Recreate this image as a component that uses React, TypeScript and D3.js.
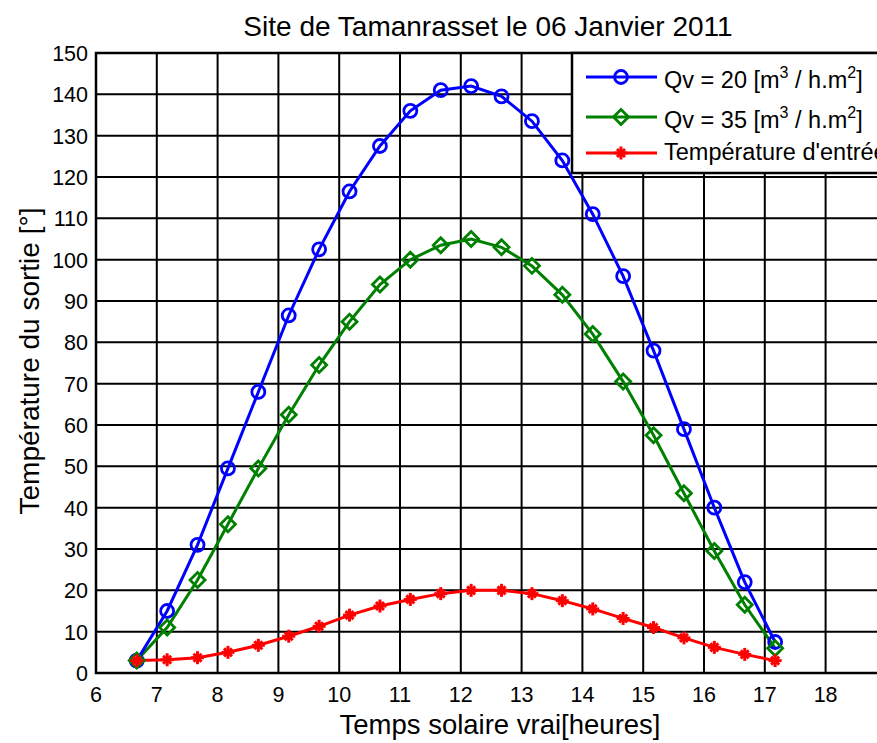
import React from "react";
import * as d3 from "d3";

const hours = [6.67, 7.17, 7.67, 8.17, 8.67, 9.17, 9.67, 10.17, 10.67, 11.17, 11.67, 12.17, 12.67, 13.17, 13.67, 14.17, 14.67, 15.17, 15.67, 16.17, 16.67, 17.17];
const qv20 = [3, 15, 31, 49.5, 68, 86.5, 102.5, 116.5, 127.5, 136, 141, 142, 139.5, 133.5, 124, 111, 96, 78, 59, 40, 22, 7.5];
const qv35 = [3, 11, 22.5, 36, 49.5, 62.5, 74.5, 85, 94, 100, 103.5, 105, 103, 98.5, 91.5, 82, 70.5, 57.5, 43.5, 29.5, 16.5, 6];
const tin = [3, 3.2, 3.7, 5, 6.7, 8.9, 11.3, 14, 16.2, 17.8, 19.2, 20, 20, 19.2, 17.5, 15.5, 13.2, 11, 8.5, 6.2, 4.5, 3];
const xTicks = [6, 7, 8, 9, 10, 11, 12, 13, 14, 15, 16, 17, 18];
const yTicks = [0, 10, 20, 30, 40, 50, 60, 70, 80, 90, 100, 110, 120, 130, 140, 150];

const W = 877, H = 743;
const L = 96, T = 53, B = 673;
const x = d3.scaleLinear().domain([6, 19]).range([L, L + 13 * 60.8]);
const y = d3.scaleLinear().domain([0, 150]).range([B, T]);
const FONT = "'Liberation Sans', Arial, sans-serif";

function Circle({ cx, cy }: { cx: number; cy: number }) {
  return <circle cx={cx} cy={cy} r={6.5} fill="none" stroke="#0000ff" strokeWidth={2.8} />;
}
function Diamond({ cx, cy }: { cx: number; cy: number }) {
  const s = 7.5;
  return <path d={`M${cx},${cy - s}L${cx + s},${cy}L${cx},${cy + s}L${cx - s},${cy}Z`} fill="none" stroke="#008000" strokeWidth={2.8} />;
}
function Star({ cx, cy }: { cx: number; cy: number }) {
  const s = 6.5, d = 4;
  return (
    <g stroke="#ff0000" strokeWidth={3}>
      <line x1={cx - s} y1={cy} x2={cx + s} y2={cy} />
      <line x1={cx} y1={cy - s} x2={cx} y2={cy + s} />
      <line x1={cx - d} y1={cy - d} x2={cx + d} y2={cy + d} />
      <line x1={cx - d} y1={cy + d} x2={cx + d} y2={cy - d} />
    </g>
  );
}

function Unit({ q, yb }: { q: string; yb: number }) {
  return (
    <text x={664} y={yb} style={{ fontSize: "23.5px" }} fill="#000">
      {`Qv = ${q} [m`}
      <tspan dy={-10} style={{ fontSize: "16px" }}>3</tspan>
      <tspan dy={10}>{" / h.m"}</tspan>
      <tspan dy={-10} style={{ fontSize: "16px" }}>2</tspan>
      <tspan dy={10}>]</tspan>
    </text>
  );
}

export default function App() {
  const line = d3.line<number>().x((_, i) => x(hours[i])).y((v) => y(v));
  const right = x(19);
  return (
    <svg width={W} height={H} style={{ position: "absolute", left: 0, top: 0, background: "#fff" }} fontFamily={FONT}>
      <rect x={0} y={0} width={W} height={H} fill="#fff" />
      {xTicks.map((t) => (
        <line key={"gx" + t} x1={x(t)} x2={x(t)} y1={T} y2={B} stroke="#000" strokeWidth={2} />
      ))}
      {yTicks.map((t) => (
        <line key={"gy" + t} x1={L} x2={right} y1={y(t)} y2={y(t)} stroke="#000" strokeWidth={2} />
      ))}
      <rect x={L} y={T} width={right - L} height={B - T} fill="none" stroke="#000" strokeWidth={2.5} />
      {xTicks.map((t) => (
        <text key={"tx" + t} x={x(t)} y={B + 29} style={{ fontSize: "21.5px" }} textAnchor="middle" fill="#000">{t}</text>
      ))}
      {yTicks.map((t) => (
        <text key={"ty" + t} x={L - 8} y={y(t) + 8} style={{ fontSize: "21.5px" }} textAnchor="end" fill="#000">{t}</text>
      ))}
      <path d={line(tin) || ""} fill="none" stroke="#ff0000" strokeWidth={3} />
      <path d={line(qv35) || ""} fill="none" stroke="#008000" strokeWidth={3} />
      <path d={line(qv20) || ""} fill="none" stroke="#0000ff" strokeWidth={3} />
      {qv20.map((v, i) => <Circle key={"c" + i} cx={x(hours[i])} cy={y(v)} />)}
      {qv35.map((v, i) => <Diamond key={"d" + i} cx={x(hours[i])} cy={y(v)} />)}
      {tin.map((v, i) => <Star key={"s" + i} cx={x(hours[i])} cy={y(v)} />)}
      <rect x={572} y={T} width={340} height={120} fill="#fff" stroke="#000" strokeWidth={2.5} />
      <line x1={586} x2={657} y1={77} y2={77} stroke="#0000ff" strokeWidth={3} />
      <Circle cx={621} cy={77} />
      <Unit q="20" yb={88} />
      <line x1={586} x2={657} y1={117} y2={117} stroke="#008000" strokeWidth={3} />
      <Diamond cx={621} cy={117} />
      <Unit q="35" yb={128} />
      <line x1={586} x2={657} y1={153} y2={153} stroke="#ff0000" strokeWidth={3} />
      <Star cx={621} cy={153} />
      <text x={664} y={160} style={{ fontSize: "23.5px" }} fill="#000">Température d'entrée</text>
      <text x={488} y={36} style={{ fontSize: "28px" }} textAnchor="middle" fill="#000">Site de Tamanrasset le 06 Janvier 2011</text>
      <text x={500} y={734} style={{ fontSize: "27.5px" }} textAnchor="middle" fill="#000">Temps solaire vrai[heures]</text>
      <text transform={`translate(39,361) rotate(-90)`} style={{ fontSize: "28px" }} textAnchor="middle" fill="#000">Température du sortie [°]</text>
    </svg>
  );
}
